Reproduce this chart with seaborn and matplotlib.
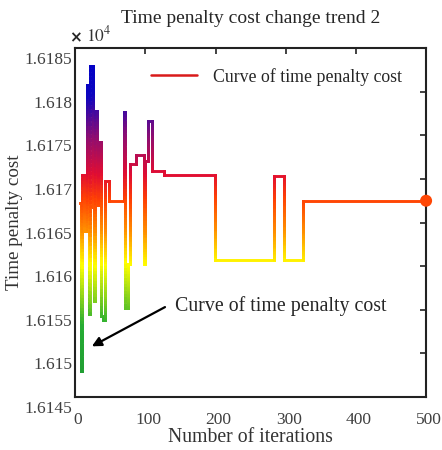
import numpy as np
import matplotlib
matplotlib.use("Agg")
import matplotlib.pyplot as plt
import matplotlib.transforms as mtransforms
import seaborn as sns
from matplotlib.collections import LineCollection
from matplotlib.colors import LinearSegmentedColormap
from matplotlib.lines import Line2D
from matplotlib.ticker import FuncFormatter, MultipleLocator

# step curve: iteration where each level starts, and its cost
iters = [7, 8, 10, 13, 17, 20, 21, 25, 27, 28, 31, 33, 37, 39, 42, 48,
         69, 71, 75, 78, 86, 98, 100, 104, 110, 127, 199, 283, 297, 324, 500]
cost = [16167.2, 16148.0, 16170.4, 16164.0, 16180.8, 16154.5, 16183.0, 16166.8,
        16156.0, 16177.8, 16167.0, 16174.2, 16154.3, 16153.8, 16169.8, 16167.5,
        16177.7, 16155.2, 16160.3, 16171.7, 16172.7, 16160.3, 16172.0, 16176.7,
        16170.9, 16170.5, 16160.7, 16170.3, 16160.7, 16167.5, 16167.5]

y_ticks = [16145, 16150, 16155, 16160, 16165, 16170, 16175, 16180, 16185]

sns.set_style("white")
plt.rcParams["font.family"] = ["Liberation Serif", "DejaVu Serif"]

# colour follows the cost value: green -> yellow -> red -> blue
cmap = LinearSegmentedColormap.from_list(
    "trend",
    [(0.00, (0.13, 0.62, 0.20)),
     (0.15, (0.15, 0.68, 0.20)),
     (0.34, (1.00, 1.00, 0.00)),
     (0.45, (1.00, 0.55, 0.00)),
     (0.55, (1.00, 0.25, 0.02)),
     (0.63, (0.88, 0.05, 0.20)),
     (0.75, (0.55, 0.05, 0.45)),
     (0.88, (0.05, 0.02, 0.75)),
     (1.00, (0.00, 0.00, 0.78))])
norm = plt.Normalize(16148, 16184)

fig = plt.figure(figsize=(4.42, 4.5), dpi=100)
ax = fig.add_axes([0.170, 0.118, 0.794, 0.775])

# build step path and split vertical jumps so they can carry a gradient
segs, cols = [], []
for i in range(len(iters) - 1):
    x0, x1 = iters[i], iters[i + 1]
    v0, v1 = cost[i], cost[i + 1]
    segs.append([(x0, v0), (x1, v0)])
    cols.append(v0)
    if v1 != v0:
        n = 60
        ys = np.linspace(v0, v1, n + 1)
        for k in range(n):
            segs.append([(x1, ys[k]), (x1, ys[k + 1])])
            cols.append((ys[k] + ys[k + 1]) / 2)

lc = LineCollection(segs, colors=cmap(norm(np.array(cols))), linewidths=2.1,
                    capstyle="projecting", joinstyle="miter")
ax.add_collection(lc)

sns.scatterplot(x=[iters[-1]], y=[cost[-1]], ax=ax, s=75,
                color=cmap(norm(cost[-1])), edgecolor="none", zorder=5, clip_on=False)

ax.set_xlim(0, 500)
ax.set_ylim(16145, 16185)
ax.xaxis.set_major_locator(MultipleLocator(100))
ax.set_yticks(y_ticks)
ax.yaxis.set_major_formatter(FuncFormatter(lambda v, pos: "{:g}".format(round(v / 1e4, 5))))
ax.tick_params(direction="in", length=4, width=1.2, top=True, right=True,
               labelsize=12.5, labelcolor="#404040", color="#222222", pad=2)
for s in ax.spines.values():
    s.set_linewidth(1.5)
    s.set_color("#222222")

# tick labels in the original sit a little off their ticks
y_shift = mtransforms.ScaledTranslation(0, -10 / 100, fig.dpi_scale_trans)
x_shift = mtransforms.ScaledTranslation(3 / 100, -12 / 100, fig.dpi_scale_trans)
for lbl in ax.get_yticklabels():
    lbl.set_transform(lbl.get_transform() + y_shift)
for lbl in ax.get_xticklabels():
    lbl.set_transform(lbl.get_transform() + x_shift)

ax.set_xlabel("Number of iterations", fontsize=14.2, color="#333333")
ax.set_ylabel("Time penalty cost", fontsize=13.7, color="#333333")
ax.xaxis.set_label_coords(0.5, -0.09)
ax.yaxis.set_label_coords(-0.148, 0.5)
ax.set_title("Time penalty cost change trend 2", fontsize=14, pad=18)
ax.text(0.0, 1.008, "×", transform=ax.transAxes, fontsize=11, fontweight="bold",
        ha="center", va="bottom", family="DejaVu Sans")
ax.text(0.03, 1.008, r"$10^4$", transform=ax.transAxes, fontsize=12.5,
        ha="left", va="bottom", color="#333333", math_fontfamily="stix")

handle = Line2D([0], [0], color=(0.85, 0.1, 0.1), lw=1.8)
ax.legend([handle], ["Curve of time penalty cost"], loc="upper right",
          frameon=False, fontsize=12.8, handlelength=2.6, handletextpad=0.9,
          bbox_to_anchor=(0.978, 0.99))

ax.text(142, 16155.4, "Curve of time penalty cost", fontsize=14.3, va="center", ha="left")
ax.annotate("", xy=(23.8, 16150.8), xytext=(128, 16155.3),
            arrowprops=dict(arrowstyle="-|>", color="black", lw=1.6,
                            mutation_scale=14, shrinkA=0, shrinkB=0))

fig.savefig("out.png", dpi=100)
